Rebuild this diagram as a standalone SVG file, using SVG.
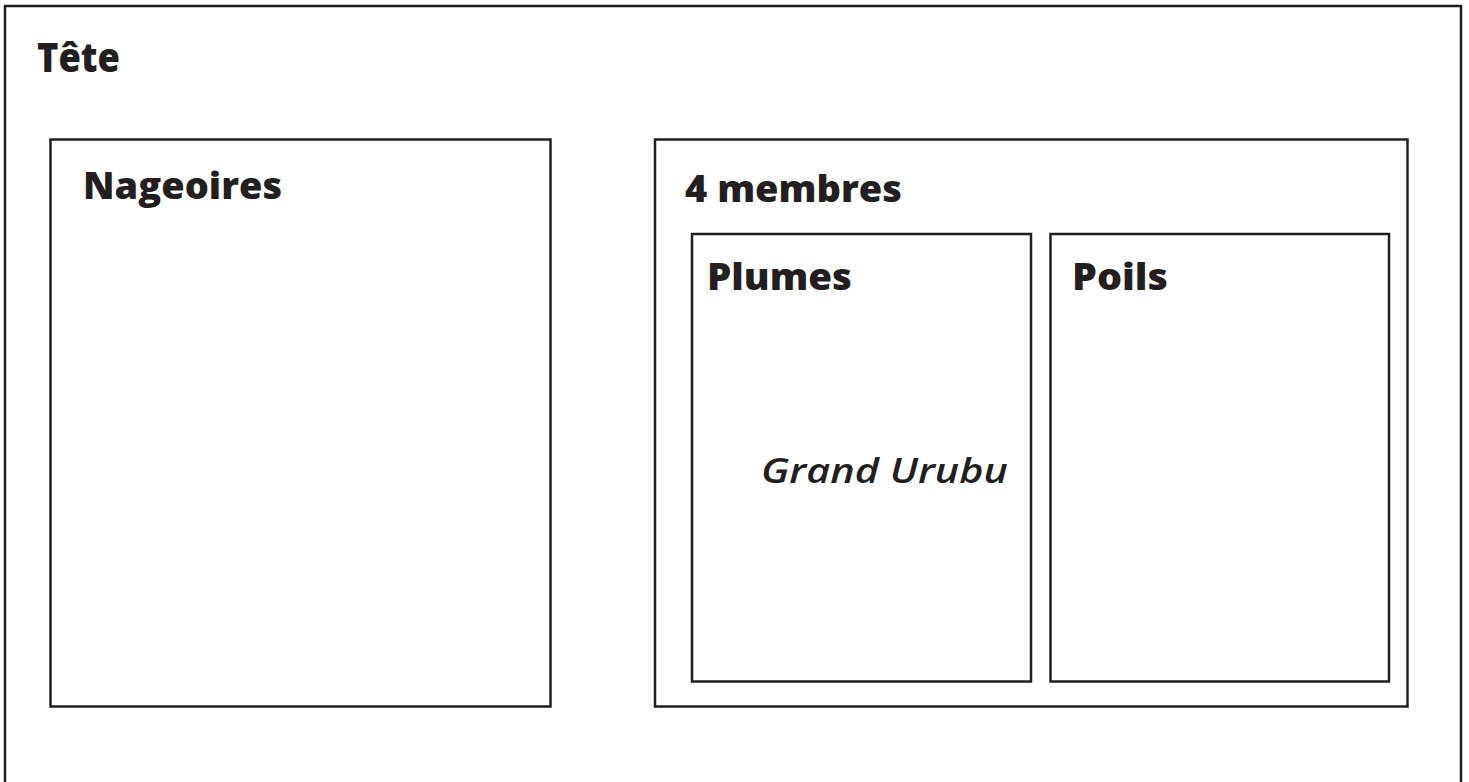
<svg xmlns="http://www.w3.org/2000/svg" width="1469" height="782" viewBox="0 0 1469 782">
  <style>
    .box { fill: none; stroke: #231f20; stroke-width: 2.5; }
    .h { font-family: "Open Sans", "DejaVu Sans", sans-serif; font-weight: 800; fill: #231f20; }
    .it { font-family: "Open Sans", "DejaVu Sans", sans-serif; font-style: italic; font-weight: 600; fill: #231f20; }
  </style>
  <rect width="1469" height="782" fill="#ffffff"/>
  <g id="tete">
    <rect class="box" x="5" y="6" width="1456" height="800"/>
    <text class="h" x="37" y="72" font-size="40" textLength="83" lengthAdjust="spacingAndGlyphs">Tête</text>
  </g>
  <g id="nageoires">
    <rect class="box" x="50.5" y="139.5" width="500" height="567"/>
    <text class="h" x="83" y="199" font-size="37" textLength="199" lengthAdjust="spacingAndGlyphs">Nageoires</text>
  </g>
  <g id="membres">
    <rect class="box" x="655" y="139.5" width="752.5" height="567"/>
    <text class="h" x="685" y="201.5" font-size="37" textLength="217" lengthAdjust="spacingAndGlyphs">4 membres</text>
  </g>
  <g id="plumes">
    <rect class="box" x="692" y="234" width="339" height="447.5"/>
    <text class="h" x="707" y="290" font-size="37" textLength="145" lengthAdjust="spacingAndGlyphs">Plumes</text>
    <text class="it" x="761" y="482.5" font-size="35" textLength="247" lengthAdjust="spacingAndGlyphs">Grand Urubu</text>
  </g>
  <g id="poils">
    <rect class="box" x="1050.5" y="234" width="338.5" height="447.5"/>
    <text class="h" x="1072" y="290" font-size="37" textLength="96" lengthAdjust="spacingAndGlyphs">Poils</text>
  </g>
  <g id="connectors"/>
</svg>
